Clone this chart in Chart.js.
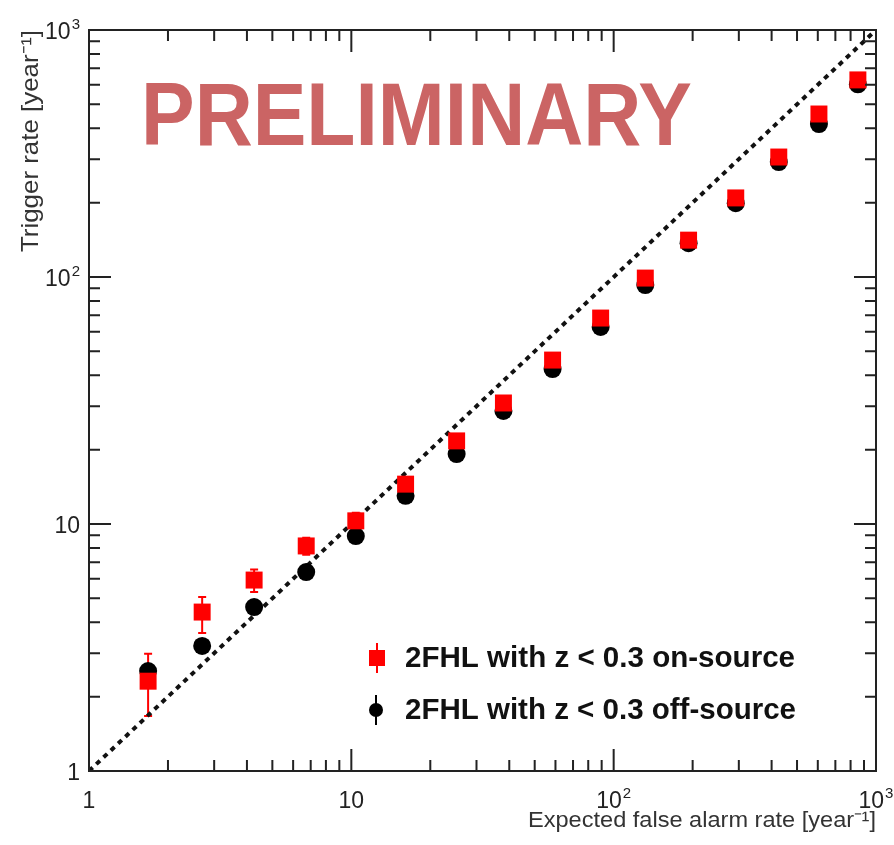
<!DOCTYPE html>
<html>
<head>
<meta charset="utf-8">
<script src="https://cdn.jsdelivr.net/npm/chart.js@4/dist/chart.umd.min.js"></script>
<style>
  html, body { margin: 0; padding: 0; background: #ffffff; }
  #wrap { width: 894px; height: 845px; }
</style>
</head>
<body>
<div id="wrap"><canvas id="c" width="894" height="845"></canvas></div>
<script>
// ---- data ----
const expectedRate = [1.68, 2.70, 4.26, 6.73, 10.4, 16.1, 25.2, 38.0, 58.5, 89.2, 132, 193, 292, 426, 606, 853];
const onSource     = [2.31, 4.40, 5.93, 8.15, 10.3, 14.5, 21.7, 30.9, 46.1, 68.2, 99.0, 141, 209, 306, 457, 628];
const onSourceLow  = [1.67, 3.62, 5.30, 7.50, 9.5, 13.6, 20.6, 29.6, 44.6, 66.5, 97.0, 139, 206, 303, 453, 623];
const onSourceHigh = [2.98, 5.06, 6.55, 8.80, 11.1, 15.4, 22.8, 32.2, 47.6, 70.0, 101, 143, 212, 309, 461, 633];
const offSource    = [2.54, 3.21, 4.61, 6.39, 8.94, 13.0, 19.2, 28.7, 42.4, 62.8, 92.8, 137, 199, 292, 416, 603];
const diagX = [1, 1000];
const diagY = [1, 1000];
const decadeTicks = [1, 10, 100, 1000];
const decadeBase = ['1', '10', '10', '10'];
const decadeExp  = ['', '', '2', '3'];
const seriesLabels = ['2FHL with z < 0.3 on-source', '2FHL with z < 0.3 off-source'];
const xTitle = 'Expected false alarm rate [year\u207B\u00B9]';
const yTitle = 'Trigger rate [year\u207B\u00B9]';
const watermark = 'PRELIMINARY';

const FONT = '"Liberation Sans", Arial, Helvetica, sans-serif';

function pts(xs, ys) { return xs.map((x, i) => ({ x: x, y: ys[i] })); }

function fitText(ctx, text, x, y, targetWidth) {
  const w = ctx.measureText(text).width;
  ctx.save();
  ctx.translate(x, y);
  ctx.scale(targetWidth / w, 1);
  ctx.fillText(text, 0, 0);
  ctx.restore();
}

// draws "base^exp" with its left edge at x and baseline at y
function powerLabel(ctx, base, exp, x, y) {
  ctx.font = '23px ' + FONT;
  ctx.fillText(base, x, y);
  const wb = ctx.measureText(base).width;
  if (exp) {
    ctx.font = '15px ' + FONT;
    ctx.fillText(exp, x + wb + 1, y - 10);
  }
}
function powerWidth(ctx, base, exp) {
  ctx.font = '23px ' + FONT;
  let w = ctx.measureText(base).width;
  if (exp) { ctx.font = '15px ' + FONT; w += ctx.measureText(exp).width + 1; }
  return w;
}

const decorPlugin = {
  id: 'decor',
  beforeDatasetsDraw(chart) {
    const ctx = chart.ctx;
    const xs = chart.scales.x, ys = chart.scales.y;
    // watermark
    ctx.save();
    ctx.font = 'bold 89px ' + FONT;
    ctx.fillStyle = 'rgb(203,100,100)';
    ctx.textBaseline = 'alphabetic';
    ctx.textAlign = 'left';
    fitText(ctx, watermark, 141, 145, 551);
    ctx.restore();
    // error bars for on-source
    ctx.save();
    ctx.strokeStyle = '#ff0000';
    ctx.lineWidth = 2;
    expectedRate.forEach((xv, i) => {
      const px = xs.getPixelForValue(xv);
      const pl = ys.getPixelForValue(onSourceLow[i]);
      const ph = ys.getPixelForValue(onSourceHigh[i]);
      ctx.beginPath();
      ctx.moveTo(px, pl); ctx.lineTo(px, ph);
      ctx.moveTo(px - 4, pl); ctx.lineTo(px + 4, pl);
      ctx.moveTo(px - 4, ph); ctx.lineTo(px + 4, ph);
      ctx.stroke();
    });
    ctx.restore();
  },
  afterDatasetsDraw(chart) {
    const ctx = chart.ctx;
    const a = chart.chartArea;
    const xs = chart.scales.x, ys = chart.scales.y;
    ctx.save();
    ctx.strokeStyle = '#222';
    ctx.lineWidth = 2;
    ctx.strokeRect(a.left, a.top, a.right - a.left, a.bottom - a.top);
    // ticks on all sides, pointing inward
    ctx.beginPath();
    for (let d = 1; d <= 1000; d *= 10) {
      for (let m = 1; m <= 9; m++) {
        const v = d * m;
        if (v > 1000) break;
        const len = (m === 1) ? 22 : 11;
        const px = xs.getPixelForValue(v);
        ctx.moveTo(px, a.bottom); ctx.lineTo(px, a.bottom - len);
        ctx.moveTo(px, a.top); ctx.lineTo(px, a.top + len);
        const py = ys.getPixelForValue(v);
        ctx.moveTo(a.left, py); ctx.lineTo(a.left + len, py);
        ctx.moveTo(a.right, py); ctx.lineTo(a.right - len, py);
      }
    }
    ctx.stroke();
    ctx.restore();

    // tick labels (decades, with superscript exponents)
    ctx.save();
    ctx.fillStyle = '#222';
    ctx.textAlign = 'left';
    ctx.textBaseline = 'alphabetic';
    decadeTicks.forEach((v, i) => {
      const w = powerWidth(ctx, decadeBase[i], decadeExp[i]);
      const px = xs.getPixelForValue(v);
      powerLabel(ctx, decadeBase[i], decadeExp[i], px - w / 2, a.bottom + 37);
      const py = ys.getPixelForValue(v);
      powerLabel(ctx, decadeBase[i], decadeExp[i], a.left - 9 - w, py + 9);
    });
    ctx.restore();

    // axis titles
    ctx.save();
    ctx.fillStyle = '#333';
    ctx.font = '22px ' + FONT;
    ctx.textAlign = 'right';
    ctx.textBaseline = 'alphabetic';
    fitText(ctx, xTitle, 876, 827, 348);
    ctx.restore();
    ctx.save();
    ctx.fillStyle = '#333';
    ctx.font = '24px ' + FONT;
    ctx.textAlign = 'right';
    ctx.textBaseline = 'alphabetic';
    ctx.translate(38, 30);
    ctx.rotate(-Math.PI / 2);
    fitText(ctx, yTitle, 0, 0, 222);
    ctx.restore();

    // legend
    ctx.save();
    const rows = [658, 710];
    const ds = chart.data.datasets;
    ctx.strokeStyle = ds[0].borderColor;
    ctx.fillStyle = ds[0].backgroundColor;
    ctx.lineWidth = 2;
    ctx.beginPath(); ctx.moveTo(377, rows[0] - 15); ctx.lineTo(377, rows[0] + 15); ctx.stroke();
    ctx.fillRect(377 - 8, rows[0] - 8, 16, 16);
    ctx.strokeStyle = ds[1].borderColor;
    ctx.fillStyle = ds[1].backgroundColor;
    ctx.beginPath(); ctx.moveTo(376, rows[1] - 15); ctx.lineTo(376, rows[1] + 15); ctx.stroke();
    ctx.beginPath(); ctx.arc(376, rows[1], 7, 0, Math.PI * 2); ctx.fill();
    ctx.fillStyle = '#111';
    ctx.font = 'bold 29px ' + FONT;
    ctx.textAlign = 'left';
    ctx.textBaseline = 'middle';
    fitText(ctx, ds[0].label, 405, rows[0] + 1, 390);
    fitText(ctx, ds[1].label, 405, rows[1] + 1, 391);
    ctx.restore();
  }
};

new Chart(document.getElementById('c'), {
  type: 'scatter',
  data: {
    datasets: [
      {
        label: seriesLabels[0],
        data: pts(expectedRate, onSource),
        pointStyle: 'rect',
        pointRadius: 12,
        pointHoverRadius: 12,
        backgroundColor: '#ff0000',
        borderColor: '#ff0000',
        borderWidth: 0,
        showLine: false
      },
      {
        label: seriesLabels[1],
        data: pts(expectedRate, offSource),
        pointStyle: 'circle',
        pointRadius: 9,
        pointHoverRadius: 9,
        backgroundColor: '#000000',
        borderColor: '#000000',
        borderWidth: 0,
        showLine: false
      },
      {
        label: 'y = x',
        data: pts(diagX, diagY),
        showLine: true,
        pointRadius: 0,
        borderColor: '#111',
        borderWidth: 4,
        borderDash: [5, 5],
        fill: false
      }
    ]
  },
  options: {
    responsive: false,
    animation: false,
    events: [],
    layout: { padding: { left: 0, right: 18, top: 30, bottom: 0 } },
    plugins: { legend: { display: false }, tooltip: { enabled: false } },
    scales: {
      x: {
        type: 'logarithmic',
        min: 1, max: 1000,
        grid: { display: false },
        border: { display: false },
        afterBuildTicks(s) { s.ticks = decadeTicks.map(v => ({ value: v })); },
        afterFit(s) { s.height = 74; s.paddingLeft = 0; s.paddingRight = 0; },
        ticks: { display: false }
      },
      y: {
        type: 'logarithmic',
        min: 1, max: 1000,
        grid: { display: false },
        border: { display: false },
        afterBuildTicks(s) { s.ticks = decadeTicks.map(v => ({ value: v })); },
        afterFit(s) { s.width = 89; s.paddingTop = 0; s.paddingBottom = 0; },
        ticks: { display: false }
      }
    }
  },
  plugins: [decorPlugin]
});
</script>
</body>
</html>
